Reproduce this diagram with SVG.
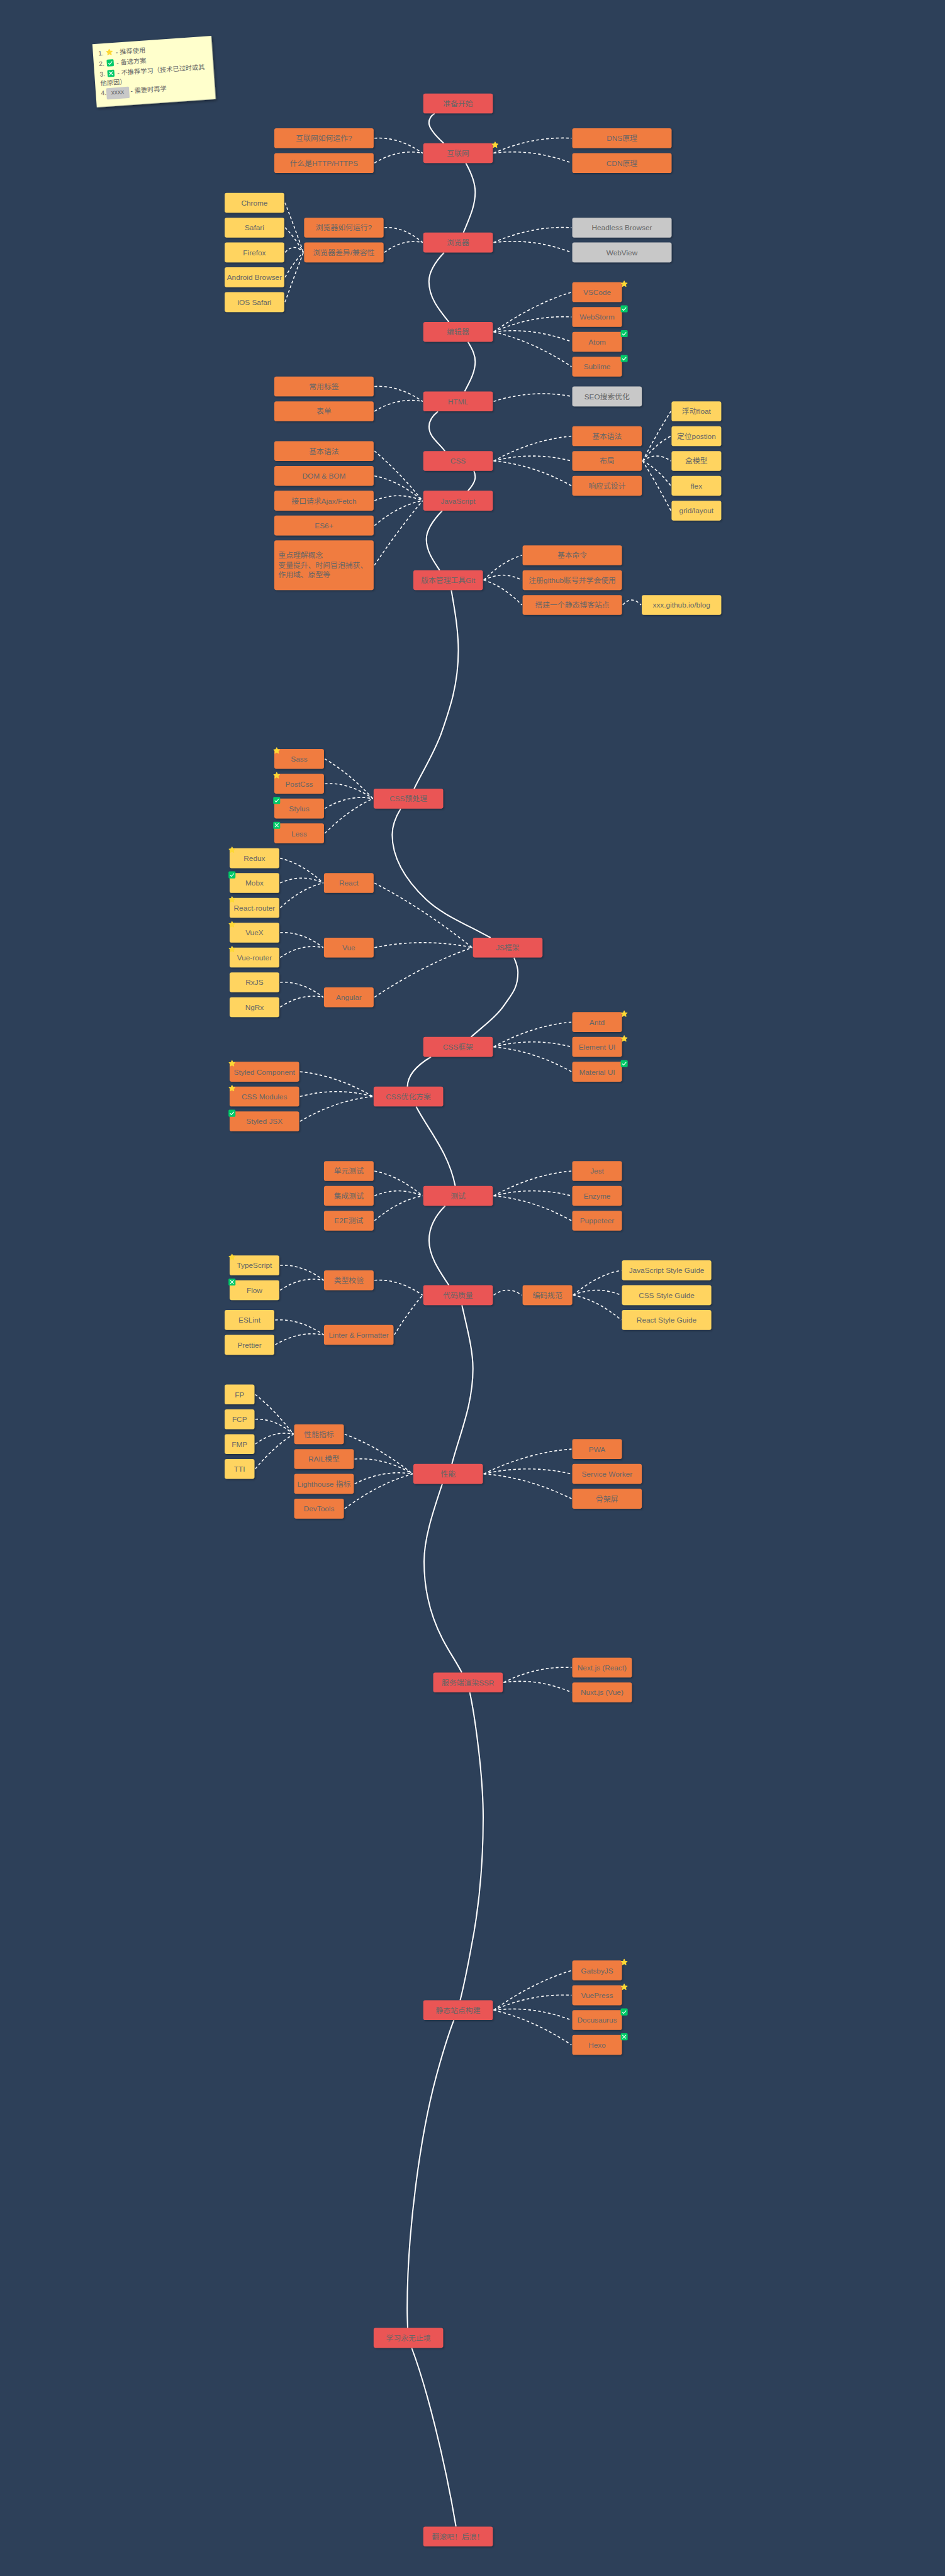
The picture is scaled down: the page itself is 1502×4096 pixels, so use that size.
<svg xmlns="http://www.w3.org/2000/svg" width="1502" height="4096" viewBox="0 0 1502 4096">
<style>
text{font-family:"Liberation Sans","Noto Sans CJK SC",sans-serif;font-size:15px;fill:#666;text-anchor:middle}
.node rect{rx:4px;ry:4px;filter:url(#sh)}
.red rect{fill:#ea5455}.org rect{fill:#f07b3f}.yel rect{fill:#ffd460}.gry rect{fill:#c8c8c8}
.flow{fill:none;stroke:#fff;stroke-width:2.6}
.dash{fill:none;stroke:#fff;stroke-width:2;stroke-dasharray:5.5 4.5}
.note text{font-size:13px;text-anchor:start}
.card{fill:#ffffcc;filter:url(#shn)}
.tag{fill:#c8c8c8;rx:2px;ry:2px}
.star{fill:#fdd835;stroke:#fdd835;stroke-width:1.4;stroke-linejoin:round}
.box{fill:#00c968}
.tick{fill:none;stroke:#fff;stroke-width:1.4}
</style>
<defs>
<filter id="sh" x="-10%" y="-20%" width="125%" height="150%"><feDropShadow dx="2" dy="2" stdDeviation="2" flood-color="#000" flood-opacity="0.28"/></filter>
<filter id="shn" x="-5%" y="-5%" width="112%" height="115%"><feDropShadow dx="2" dy="3" stdDeviation="3" flood-color="#000" flood-opacity="0.4"/></filter>
<g id="i-star"><polygon class="star" points="0,-6.2 1.76,-2.43 5.9,-2.01 2.85,.93 3.7,5 0,3 -3.7,5 -2.85,.93 -5.9,-2.01 -1.76,-2.43"/></g>
<g id="i-ok"><rect class="box" x="-7" y="-7" width="14" height="14" rx="2"/><path class="tick" d="M-4,0.2 L-1.2,3 L4,-2.8"/></g>
<g id="i-no"><rect class="box" x="-7" y="-7" width="14" height="14" rx="2"/><path class="tick" d="M-3.6,-3.6 L3.6,3.6 M3.6,-3.6 L-3.6,3.6"/></g>
</defs>
<rect width="1502" height="4096" fill="#2d4059"/>
<g transform="scale(0.78927 0.78952)">
<g id="note" class="note" transform="translate(186 89) rotate(-4)">
<rect class="card" width="240" height="127.5"/>
<text x="10.5" y="24">1.</text><use href="#i-star" x="33" y="18.7"/><text x="46" y="24">- 推荐使用</text>
<text x="10.5" y="45">2.</text><use href="#i-ok" x="33.3" y="40.1"/><text x="46" y="45">- 备选方案</text>
<text x="10.5" y="66">3.</text><use href="#i-no" x="33.2" y="61.2"/><text x="46" y="66">- 不推荐学习（技术已过时或其</text>
<text x="10.5" y="84.5">他原因）</text>
<text x="10.5" y="104">4.</text><rect class="tag" x="21.4" y="90.4" width="46" height="23"/><text x="31" y="104">xxxx</text><text x="70" y="104">- 需要时再学</text>
</g>
<g id="connectors">
<g id="main-flow">
<path class="flow" d="M875.3,228.5 C868,233 863.8,240 863.8,247.6 C863.8,260 880,276 893.5,288.5"/>
<path class="flow" d="M938,328.5 C950,350 957,368 957,387.3 C957,415 945,440 933.2,468.5"/>
<path class="flow" d="M894.4,508.5 C874,530 863.8,548 863.8,567 C863.8,600 885,625 904,648.5"/>
<path class="flow" d="M942.3,688.5 C952,705 957,715 957,728.6 C957,750 945,770 935.6,788.5"/>
<path class="flow" d="M882,828.5 C870,838 864,848 864,859 C864,880 882,890 896,908.5"/>
<path class="flow" d="M954.4,948.5 C956.5,953 957,957 957,961 C957,970 950,980 942.3,988.5"/>
<path class="flow" d="M890.7,1028.5 C868,1052 858.6,1070 858.6,1086 C858.6,1110 873,1130 885.4,1148.5"/>
<path class="flow" d="M908.8,1188.5 C916,1230 923,1270 923,1310 C923,1380 905,1430 887.6,1480 C870,1525 850,1555 834,1588.5"/>
<path class="flow" d="M807,1628.5 C795,1648 789.8,1665 789.8,1681 C789.8,1735 825,1780 858.6,1812 C890,1842 940,1862 988,1888.5"/>
<path class="flow" d="M1035,1928.5 C1040,1940 1043,1948 1043,1958.4 C1043,1990 1030,2003 1018.4,2020 C1000,2048 975,2065 948.4,2088.5"/>
<path class="flow" d="M868,2128.5 C840,2145 821,2165 820.4,2188.5"/>
<path class="flow" d="M838,2228.5 C862,2275 903,2320 916.8,2388.5"/>
<path class="flow" d="M896.7,2428.5 C875,2450 864,2475 864,2498 C864,2530 885,2560 904,2588.5"/>
<path class="flow" d="M930.2,2628.5 C942,2680 952.4,2720 952.4,2756.4 C952.4,2830 925,2890 910,2948.5"/>
<path class="flow" d="M890.7,2988.5 C870,3050 854,3100 854,3145 C854,3210 870,3260 890.7,3300 C905,3328 918,3345 930,3368.5"/>
<path class="flow" d="M946,3408.5 C955,3450 973,3570 973,3660 C973,3760 965,3840 949.3,3920 C942,3960 935,3995 926.7,4028.5"/>
<path class="flow" d="M914,4068.5 C900,4105 890,4140 881.7,4170 C845,4300 820,4500 820,4650 C820,4665 820.5,4675 821,4688.5"/>
<path class="flow" d="M829,4728.5 C858,4805 895,4950 918.3,5088.5"/>
</g>
<g id="branches">
<path class="dash" d="M754,278.4 Q802.5,275 851,308.4"/>
<path class="dash" d="M754,328.4 Q802.5,299 851,308.4"/>
<path class="dash" d="M994,308.4 Q1072.5,274 1151,278.4"/>
<path class="dash" d="M994,308.4 Q1072.5,298.7 1151,328.4"/>
<path class="dash" d="M574,408.4 Q592.5,456 611,508.4"/>
<path class="dash" d="M574,458.4 Q592.5,476.3 611,508.4"/>
<path class="dash" d="M574,508.4 Q592.5,488.4 611,508.4"/>
<path class="dash" d="M574,558.4 Q592.5,526.3 611,508.4"/>
<path class="dash" d="M574,608.4 Q592.5,556 611,508.4"/>
<path class="dash" d="M774,458.4 Q812.5,456 851,488.4"/>
<path class="dash" d="M774,508.4 Q812.5,479.7 851,488.4"/>
<path class="dash" d="M994,488.4 Q1072.5,454.1 1151,458.4"/>
<path class="dash" d="M994,488.4 Q1072.5,478.7 1151,508.4"/>
<path class="dash" d="M994,668.4 Q1072.5,612.5 1151,588.4"/>
<path class="dash" d="M994,668.4 Q1072.5,634.1 1151,638.4"/>
<path class="dash" d="M994,668.4 Q1072.5,658.7 1151,688.4"/>
<path class="dash" d="M994,668.4 Q1072.5,686.7 1151,738.4"/>
<path class="dash" d="M754,778.4 Q802.5,775.1 851,808.4"/>
<path class="dash" d="M754,828.4 Q802.5,799.2 851,808.4"/>
<path class="dash" d="M994,808.4 Q1072.5,783.5 1151,798.4"/>
<path class="dash" d="M994,928.4 Q1072.5,885.2 1151,878.4"/>
<path class="dash" d="M994,928.4 Q1072.5,908.4 1151,928.4"/>
<path class="dash" d="M994,928.4 Q1072.5,935.2 1151,978.4"/>
<path class="dash" d="M1294,928.4 Q1322.5,873.5 1351,828.4"/>
<path class="dash" d="M1294,928.4 Q1322.5,892.1 1351,878.4"/>
<path class="dash" d="M1294,928.4 Q1322.5,908.4 1351,928.4"/>
<path class="dash" d="M1294,928.4 Q1322.5,942.1 1351,978.4"/>
<path class="dash" d="M1294,928.4 Q1322.5,973.5 1351,1028.4"/>
<path class="dash" d="M754,908.4 Q802.5,948.7 851,1008.4"/>
<path class="dash" d="M754,958.4 Q802.5,967.6 851,1008.4"/>
<path class="dash" d="M754,1008.4 Q802.5,988.4 851,1008.4"/>
<path class="dash" d="M754,1058.4 Q802.5,1017.6 851,1008.4"/>
<path class="dash" d="M754,1138.4 Q802.5,1066.2 851,1008.4"/>
<path class="dash" d="M974,1168.4 Q1012.5,1129.4 1051,1118.4"/>
<path class="dash" d="M974,1168.4 Q1012.5,1148.4 1051,1168.4"/>
<path class="dash" d="M974,1168.4 Q1012.5,1179.4 1051,1218.4"/>
<path class="dash" d="M1254,1218.4 Q1272.5,1198.4 1291,1218.4"/>
<path class="dash" d="M654,1528.4 Q702.5,1556.5 751,1608.4"/>
<path class="dash" d="M654,1578.4 Q702.5,1575.1 751,1608.4"/>
<path class="dash" d="M654,1628.4 Q702.5,1599.2 751,1608.4"/>
<path class="dash" d="M654,1678.4 Q702.5,1630.2 751,1608.4"/>
<path class="dash" d="M564,1728.4 Q607.5,1738.4 651,1778.4"/>
<path class="dash" d="M564,1778.4 Q607.5,1758.4 651,1778.4"/>
<path class="dash" d="M564,1828.4 Q607.5,1788.4 651,1778.4"/>
<path class="dash" d="M564,1878.4 Q607.5,1875.5 651,1908.4"/>
<path class="dash" d="M564,1928.4 Q607.5,1899.4 651,1908.4"/>
<path class="dash" d="M564,1978.4 Q607.5,1975.5 651,2008.4"/>
<path class="dash" d="M564,2028.4 Q607.5,1999.4 651,2008.4"/>
<path class="dash" d="M754,1778.4 Q852.5,1829.5 951,1908.4"/>
<path class="dash" d="M754,1908.4 Q852.5,1888.4 951,1908.4"/>
<path class="dash" d="M754,2008.4 Q852.5,1942.5 951,1908.4"/>
<path class="dash" d="M994,2108.4 Q1072.5,2065.2 1151,2058.4"/>
<path class="dash" d="M994,2108.4 Q1072.5,2088.4 1151,2108.4"/>
<path class="dash" d="M994,2108.4 Q1072.5,2115.2 1151,2158.4"/>
<path class="dash" d="M604,2158.4 Q677.5,2165.5 751,2208.4"/>
<path class="dash" d="M604,2208.4 Q677.5,2188.4 751,2208.4"/>
<path class="dash" d="M604,2258.4 Q677.5,2215.5 751,2208.4"/>
<path class="dash" d="M754,2358.4 Q802.5,2367.6 851,2408.4"/>
<path class="dash" d="M754,2408.4 Q802.5,2388.4 851,2408.4"/>
<path class="dash" d="M754,2458.4 Q802.5,2417.6 851,2408.4"/>
<path class="dash" d="M994,2408.4 Q1072.5,2365.2 1151,2358.4"/>
<path class="dash" d="M994,2408.4 Q1072.5,2388.4 1151,2408.4"/>
<path class="dash" d="M994,2408.4 Q1072.5,2415.2 1151,2458.4"/>
<path class="dash" d="M564,2548.4 Q608,2545.5 652,2578.4"/>
<path class="dash" d="M564,2598.4 Q608,2569.4 652,2578.4"/>
<path class="dash" d="M754,2578.4 Q802.5,2575.1 851,2608.4"/>
<path class="dash" d="M554,2658.4 Q603,2655.1 652,2688.4"/>
<path class="dash" d="M554,2708.4 Q603,2679.2 652,2688.4"/>
<path class="dash" d="M794,2688.4 Q822.5,2641.7 851,2608.4"/>
<path class="dash" d="M994,2608.4 Q1022.5,2588.4 1051,2608.4"/>
<path class="dash" d="M1154,2608.4 Q1202.5,2567.6 1251,2558.4"/>
<path class="dash" d="M1154,2608.4 Q1202.5,2588.4 1251,2608.4"/>
<path class="dash" d="M1154,2608.4 Q1202.5,2617.6 1251,2658.4"/>
<path class="dash" d="M514,2808.4 Q552.5,2838.8 591,2888.4"/>
<path class="dash" d="M514,2858.4 Q552.5,2856 591,2888.4"/>
<path class="dash" d="M514,2908.4 Q552.5,2879.7 591,2888.4"/>
<path class="dash" d="M514,2958.4 Q552.5,2912.4 591,2888.4"/>
<path class="dash" d="M694,2888.4 Q762.5,2913.5 831,2968.4"/>
<path class="dash" d="M714,2938.4 Q772.5,2934.6 831,2968.4"/>
<path class="dash" d="M714,2988.4 Q772.5,2959 831,2968.4"/>
<path class="dash" d="M694,3038.4 Q762.5,2987.5 831,2968.4"/>
<path class="dash" d="M974,2968.4 Q1062.5,2924.9 1151,2918.4"/>
<path class="dash" d="M974,2968.4 Q1062.5,2948.4 1151,2968.4"/>
<path class="dash" d="M974,2968.4 Q1062.5,2974.9 1151,3018.4"/>
<path class="dash" d="M1014,3388.4 Q1082.5,3354.3 1151,3358.4"/>
<path class="dash" d="M1014,3388.4 Q1082.5,3378.8 1151,3408.4"/>
<path class="dash" d="M994,4048.4 Q1072.5,3992.5 1151,3968.4"/>
<path class="dash" d="M994,4048.4 Q1072.5,4014.1 1151,4018.4"/>
<path class="dash" d="M994,4048.4 Q1072.5,4038.7 1151,4068.4"/>
<path class="dash" d="M994,4048.4 Q1072.5,4066.7 1151,4118.4"/>
</g>
</g>
<g id="nodes">
<g id="n-start" class="node red"><rect x="852.4" y="188.4" width="140" height="40"/><text x="922.4" y="214">准备开始</text></g>
<g id="n-internet" class="node red"><rect x="852.4" y="288.4" width="140" height="40"/><text x="922.4" y="314">互联网</text><use href="#i-star" x="997" y="292"/></g>
<g id="n-how-net" class="node org"><rect x="552.4" y="258.4" width="200" height="40"/><text x="652.4" y="284">互联网如何运作?</text></g>
<g id="n-http" class="node org"><rect x="552.4" y="308.4" width="200" height="40"/><text x="652.4" y="334">什么是HTTP/HTTPS</text></g>
<g id="n-dns" class="node org"><rect x="1152.4" y="258.4" width="200" height="40"/><text x="1252.4" y="284">DNS原理</text></g>
<g id="n-cdn" class="node org"><rect x="1152.4" y="308.4" width="200" height="40"/><text x="1252.4" y="334">CDN原理</text></g>
<g id="n-chrome" class="node yel"><rect x="452.4" y="388.4" width="120" height="40"/><text x="512.4" y="414">Chrome</text></g>
<g id="n-safari" class="node yel"><rect x="452.4" y="438.4" width="120" height="40"/><text x="512.4" y="464">Safari</text></g>
<g id="n-firefox" class="node yel"><rect x="452.4" y="488.4" width="120" height="40"/><text x="512.4" y="514">Firefox</text></g>
<g id="n-android" class="node yel"><rect x="452.4" y="538.4" width="120" height="40"/><text x="512.4" y="564">Android Browser</text></g>
<g id="n-ios" class="node yel"><rect x="452.4" y="588.4" width="120" height="40"/><text x="512.4" y="614">iOS Safari</text></g>
<g id="n-browser-run" class="node org"><rect x="612.4" y="438.4" width="160" height="40"/><text x="692.4" y="464">浏览器如何运行?</text></g>
<g id="n-browser-diff" class="node org"><rect x="612.4" y="488.4" width="160" height="40"/><text x="692.4" y="514">浏览器差异/兼容性</text></g>
<g id="n-browser" class="node red"><rect x="852.4" y="468.4" width="140" height="40"/><text x="922.4" y="494">浏览器</text></g>
<g id="n-headless" class="node gry"><rect x="1152.4" y="438.4" width="200" height="40"/><text x="1252.4" y="464">Headless Browser</text></g>
<g id="n-webview" class="node gry"><rect x="1152.4" y="488.4" width="200" height="40"/><text x="1252.4" y="514">WebView</text></g>
<g id="n-editor" class="node red"><rect x="852.4" y="648.4" width="140" height="40"/><text x="922.4" y="674">编辑器</text></g>
<g id="n-vscode" class="node org"><rect x="1152.4" y="568.4" width="100" height="40"/><text x="1202.4" y="594">VSCode</text><use href="#i-star" x="1257" y="572"/></g>
<g id="n-webstorm" class="node org"><rect x="1152.4" y="618.4" width="100" height="40"/><text x="1202.4" y="644">WebStorm</text><use href="#i-ok" x="1257" y="622"/></g>
<g id="n-atom" class="node org"><rect x="1152.4" y="668.4" width="100" height="40"/><text x="1202.4" y="694">Atom</text><use href="#i-ok" x="1257" y="672"/></g>
<g id="n-sublime" class="node org"><rect x="1152.4" y="718.4" width="100" height="40"/><text x="1202.4" y="744">Sublime</text><use href="#i-ok" x="1257" y="722"/></g>
<g id="n-html" class="node red"><rect x="852.4" y="788.4" width="140" height="40"/><text x="922.4" y="814">HTML</text></g>
<g id="n-tags" class="node org"><rect x="552.4" y="758.4" width="200" height="40"/><text x="652.4" y="784">常用标签</text></g>
<g id="n-form" class="node org"><rect x="552.4" y="808.4" width="200" height="40"/><text x="652.4" y="834">表单</text></g>
<g id="n-seo" class="node gry"><rect x="1152.4" y="778.4" width="140" height="40"/><text x="1222.4" y="804">SEO搜索优化</text></g>
<g id="n-css" class="node red"><rect x="852.4" y="908.4" width="140" height="40"/><text x="922.4" y="934">CSS</text></g>
<g id="n-css-syntax" class="node org"><rect x="1152.4" y="858.4" width="140" height="40"/><text x="1222.4" y="884">基本语法</text></g>
<g id="n-layout" class="node org"><rect x="1152.4" y="908.4" width="140" height="40"/><text x="1222.4" y="934">布局</text></g>
<g id="n-responsive" class="node org"><rect x="1152.4" y="958.4" width="140" height="40"/><text x="1222.4" y="984">响应式设计</text></g>
<g id="n-float" class="node yel"><rect x="1352.4" y="808.4" width="100" height="40"/><text x="1402.4" y="834">浮动float</text></g>
<g id="n-position" class="node yel"><rect x="1352.4" y="858.4" width="100" height="40"/><text x="1402.4" y="884">定位postion</text></g>
<g id="n-boxmodel" class="node yel"><rect x="1352.4" y="908.4" width="100" height="40"/><text x="1402.4" y="934">盒模型</text></g>
<g id="n-flex" class="node yel"><rect x="1352.4" y="958.4" width="100" height="40"/><text x="1402.4" y="984">flex</text></g>
<g id="n-grid" class="node yel"><rect x="1352.4" y="1008.4" width="100" height="40"/><text x="1402.4" y="1034">grid/layout</text></g>
<g id="n-js" class="node red"><rect x="852.4" y="988.4" width="140" height="40"/><text x="922.4" y="1014">JavaScript</text></g>
<g id="n-js-syntax" class="node org"><rect x="552.4" y="888.4" width="200" height="40"/><text x="652.4" y="914">基本语法</text></g>
<g id="n-dom" class="node org"><rect x="552.4" y="938.4" width="200" height="40"/><text x="652.4" y="964">DOM &amp; BOM</text></g>
<g id="n-ajax" class="node org"><rect x="552.4" y="988.4" width="200" height="40"/><text x="652.4" y="1014">接口请求Ajax/Fetch</text></g>
<g id="n-es6" class="node org"><rect x="552.4" y="1038.4" width="200" height="40"/><text x="652.4" y="1064">ES6+</text></g>
<g id="n-concept" class="node org"><rect x="552.4" y="1088.4" width="200" height="100"/><text x="560.4" y="1123.5" style="text-anchor:start">重点理解概念</text><text x="560.4" y="1143.2" style="text-anchor:start">变量提升、时间冒泡捕获、</text><text x="560.4" y="1163" style="text-anchor:start">作用域、原型等</text></g>
<g id="n-git" class="node red"><rect x="832.4" y="1148.4" width="140" height="40"/><text x="902.4" y="1174">版本管理工具Git</text></g>
<g id="n-git-cmd" class="node org"><rect x="1052.4" y="1098.4" width="200" height="40"/><text x="1152.4" y="1124">基本命令</text></g>
<g id="n-github" class="node org"><rect x="1052.4" y="1148.4" width="200" height="40"/><text x="1152.4" y="1174">注册github账号并学会使用</text></g>
<g id="n-blog" class="node org"><rect x="1052.4" y="1198.4" width="200" height="40"/><text x="1152.4" y="1224">搭建一个静态博客站点</text></g>
<g id="n-blog-url" class="node yel"><rect x="1292.4" y="1198.4" width="160" height="40"/><text x="1372.4" y="1224">xxx.github.io/blog</text></g>
<g id="n-precss" class="node red"><rect x="752.4" y="1588.4" width="140" height="40"/><text x="822.4" y="1614">CSS预处理</text></g>
<g id="n-sass" class="node org"><rect x="552.4" y="1508.4" width="100" height="40"/><text x="602.4" y="1534">Sass</text><use href="#i-star" x="557.2" y="1512"/></g>
<g id="n-postcss" class="node org"><rect x="552.4" y="1558.4" width="100" height="40"/><text x="602.4" y="1584">PostCss</text><use href="#i-star" x="557.2" y="1562"/></g>
<g id="n-stylus" class="node org"><rect x="552.4" y="1608.4" width="100" height="40"/><text x="602.4" y="1634">Stylus</text><use href="#i-ok" x="557.2" y="1612"/></g>
<g id="n-less" class="node org"><rect x="552.4" y="1658.4" width="100" height="40"/><text x="602.4" y="1684">Less</text><use href="#i-no" x="557.2" y="1662"/></g>
<g id="n-redux" class="node yel"><rect x="462.4" y="1708.4" width="100" height="40"/><text x="512.4" y="1734">Redux</text><use href="#i-star" x="467.2" y="1712"/></g>
<g id="n-mobx" class="node yel"><rect x="462.4" y="1758.4" width="100" height="40"/><text x="512.4" y="1784">Mobx</text><use href="#i-ok" x="467.2" y="1762"/></g>
<g id="n-rrouter" class="node yel"><rect x="462.4" y="1808.4" width="100" height="40"/><text x="512.4" y="1834">React-router</text><use href="#i-star" x="467.2" y="1812"/></g>
<g id="n-vuex" class="node yel"><rect x="462.4" y="1858.4" width="100" height="40"/><text x="512.4" y="1884">VueX</text><use href="#i-star" x="467.2" y="1862"/></g>
<g id="n-vrouter" class="node yel"><rect x="462.4" y="1908.4" width="100" height="40"/><text x="512.4" y="1934">Vue-router</text><use href="#i-star" x="467.2" y="1912"/></g>
<g id="n-rxjs" class="node yel"><rect x="462.4" y="1958.4" width="100" height="40"/><text x="512.4" y="1984">RxJS</text></g>
<g id="n-ngrx" class="node yel"><rect x="462.4" y="2008.4" width="100" height="40"/><text x="512.4" y="2034">NgRx</text></g>
<g id="n-react" class="node org"><rect x="652.4" y="1758.4" width="100" height="40"/><text x="702.4" y="1784">React</text></g>
<g id="n-vue" class="node org"><rect x="652.4" y="1888.4" width="100" height="40"/><text x="702.4" y="1914">Vue</text></g>
<g id="n-angular" class="node org"><rect x="652.4" y="1988.4" width="100" height="40"/><text x="702.4" y="2014">Angular</text></g>
<g id="n-jsfw" class="node red"><rect x="952.4" y="1888.4" width="140" height="40"/><text x="1022.4" y="1914">JS框架</text></g>
<g id="n-cssfw" class="node red"><rect x="852.4" y="2088.4" width="140" height="40"/><text x="922.4" y="2114">CSS框架</text></g>
<g id="n-antd" class="node org"><rect x="1152.4" y="2038.4" width="100" height="40"/><text x="1202.4" y="2064">Antd</text><use href="#i-star" x="1257" y="2042"/></g>
<g id="n-element" class="node org"><rect x="1152.4" y="2088.4" width="100" height="40"/><text x="1202.4" y="2114">Element UI</text><use href="#i-star" x="1257" y="2092"/></g>
<g id="n-material" class="node org"><rect x="1152.4" y="2138.4" width="100" height="40"/><text x="1202.4" y="2164">Material UI</text><use href="#i-ok" x="1257" y="2142"/></g>
<g id="n-cssopt" class="node red"><rect x="752.4" y="2188.4" width="140" height="40"/><text x="822.4" y="2214">CSS优化方案</text></g>
<g id="n-styledc" class="node org"><rect x="462.4" y="2138.4" width="140" height="40"/><text x="532.4" y="2164">Styled Component</text><use href="#i-star" x="467.2" y="2142"/></g>
<g id="n-cssmod" class="node org"><rect x="462.4" y="2188.4" width="140" height="40"/><text x="532.4" y="2214">CSS Modules</text><use href="#i-star" x="467.2" y="2192"/></g>
<g id="n-styledjsx" class="node org"><rect x="462.4" y="2238.4" width="140" height="40"/><text x="532.4" y="2264">Styled JSX</text><use href="#i-ok" x="467.2" y="2242"/></g>
<g id="n-test" class="node red"><rect x="852.4" y="2388.4" width="140" height="40"/><text x="922.4" y="2414">测试</text></g>
<g id="n-unit" class="node org"><rect x="652.4" y="2338.4" width="100" height="40"/><text x="702.4" y="2364">单元测试</text></g>
<g id="n-integ" class="node org"><rect x="652.4" y="2388.4" width="100" height="40"/><text x="702.4" y="2414">集成测试</text></g>
<g id="n-e2e" class="node org"><rect x="652.4" y="2438.4" width="100" height="40"/><text x="702.4" y="2464">E2E测试</text></g>
<g id="n-jest" class="node org"><rect x="1152.4" y="2338.4" width="100" height="40"/><text x="1202.4" y="2364">Jest</text></g>
<g id="n-enzyme" class="node org"><rect x="1152.4" y="2388.4" width="100" height="40"/><text x="1202.4" y="2414">Enzyme</text></g>
<g id="n-puppeteer" class="node org"><rect x="1152.4" y="2438.4" width="100" height="40"/><text x="1202.4" y="2464">Puppeteer</text></g>
<g id="n-quality" class="node red"><rect x="852.4" y="2588.4" width="140" height="40"/><text x="922.4" y="2614">代码质量</text></g>
<g id="n-typecheck" class="node org"><rect x="652.4" y="2558.4" width="100" height="40"/><text x="702.4" y="2584">类型校验</text></g>
<g id="n-ts" class="node yel"><rect x="462.4" y="2528.4" width="100" height="40"/><text x="512.4" y="2554">TypeScript</text><use href="#i-star" x="467.2" y="2532"/></g>
<g id="n-flow" class="node yel"><rect x="462.4" y="2578.4" width="100" height="40"/><text x="512.4" y="2604">Flow</text><use href="#i-no" x="467.2" y="2582"/></g>
<g id="n-eslint" class="node yel"><rect x="452.4" y="2638.4" width="100" height="40"/><text x="502.4" y="2664">ESLint</text></g>
<g id="n-prettier" class="node yel"><rect x="452.4" y="2688.4" width="100" height="40"/><text x="502.4" y="2714">Prettier</text></g>
<g id="n-linter" class="node org"><rect x="652.4" y="2668.4" width="140" height="40"/><text x="722.4" y="2694">Linter &amp; Formatter</text></g>
<g id="n-style" class="node org"><rect x="1052.4" y="2588.4" width="100" height="40"/><text x="1102.4" y="2614">编码规范</text></g>
<g id="n-jsstyle" class="node yel"><rect x="1252.4" y="2538.4" width="180" height="40"/><text x="1342.4" y="2564">JavaScript Style Guide</text></g>
<g id="n-cssstyle" class="node yel"><rect x="1252.4" y="2588.4" width="180" height="40"/><text x="1342.4" y="2614">CSS Style Guide</text></g>
<g id="n-reactstyle" class="node yel"><rect x="1252.4" y="2638.4" width="180" height="40"/><text x="1342.4" y="2664">React Style Guide</text></g>
<g id="n-fp" class="node yel"><rect x="452.4" y="2788.4" width="60" height="40"/><text x="482.4" y="2814">FP</text></g>
<g id="n-fcp" class="node yel"><rect x="452.4" y="2838.4" width="60" height="40"/><text x="482.4" y="2864">FCP</text></g>
<g id="n-fmp" class="node yel"><rect x="452.4" y="2888.4" width="60" height="40"/><text x="482.4" y="2914">FMP</text></g>
<g id="n-tti" class="node yel"><rect x="452.4" y="2938.4" width="60" height="40"/><text x="482.4" y="2964">TTI</text></g>
<g id="n-metrics" class="node org"><rect x="592.4" y="2868.4" width="100" height="40"/><text x="642.4" y="2894">性能指标</text></g>
<g id="n-rail" class="node org"><rect x="592.4" y="2918.4" width="120" height="40"/><text x="652.4" y="2944">RAIL模型</text></g>
<g id="n-lighthouse" class="node org"><rect x="592.4" y="2968.4" width="120" height="40"/><text x="652.4" y="2994">Lighthouse 指标</text></g>
<g id="n-devtools" class="node org"><rect x="592.4" y="3018.4" width="100" height="40"/><text x="642.4" y="3044">DevTools</text></g>
<g id="n-perf" class="node red"><rect x="832.4" y="2948.4" width="140" height="40"/><text x="902.4" y="2974">性能</text></g>
<g id="n-pwa" class="node org"><rect x="1152.4" y="2898.4" width="100" height="40"/><text x="1202.4" y="2924">PWA</text></g>
<g id="n-sw" class="node org"><rect x="1152.4" y="2948.4" width="140" height="40"/><text x="1222.4" y="2974">Service Worker</text></g>
<g id="n-skeleton" class="node org"><rect x="1152.4" y="2998.4" width="140" height="40"/><text x="1222.4" y="3024">骨架屏</text></g>
<g id="n-ssr" class="node red"><rect x="872.4" y="3368.4" width="140" height="40"/><text x="942.4" y="3394">服务端渲染SSR</text></g>
<g id="n-next" class="node org"><rect x="1152.4" y="3338.4" width="120" height="40"/><text x="1212.4" y="3364">Next.js (React)</text></g>
<g id="n-nuxt" class="node org"><rect x="1152.4" y="3388.4" width="120" height="40"/><text x="1212.4" y="3414">Nuxt.js (Vue)</text></g>
<g id="n-ssg" class="node red"><rect x="852.4" y="4028.4" width="140" height="40"/><text x="922.4" y="4054">静态站点构建</text></g>
<g id="n-gatsby" class="node org"><rect x="1152.4" y="3948.4" width="100" height="40"/><text x="1202.4" y="3974">GatsbyJS</text><use href="#i-star" x="1257" y="3952"/></g>
<g id="n-vuepress" class="node org"><rect x="1152.4" y="3998.4" width="100" height="40"/><text x="1202.4" y="4024">VuePress</text><use href="#i-star" x="1257" y="4002"/></g>
<g id="n-docusaurus" class="node org"><rect x="1152.4" y="4048.4" width="100" height="40"/><text x="1202.4" y="4074">Docusaurus</text><use href="#i-ok" x="1257" y="4052"/></g>
<g id="n-hexo" class="node org"><rect x="1152.4" y="4098.4" width="100" height="40"/><text x="1202.4" y="4124">Hexo</text><use href="#i-no" x="1257" y="4102"/></g>
<g id="n-learn" class="node red"><rect x="752.4" y="4688.4" width="140" height="40"/><text x="822.4" y="4714">学习永无止境</text></g>
<g id="n-end" class="node red"><rect x="852.4" y="5088.4" width="140" height="40"/><text x="922.4" y="5114">翻滚吧！后浪！</text></g>
</g>
</g>
</svg>
